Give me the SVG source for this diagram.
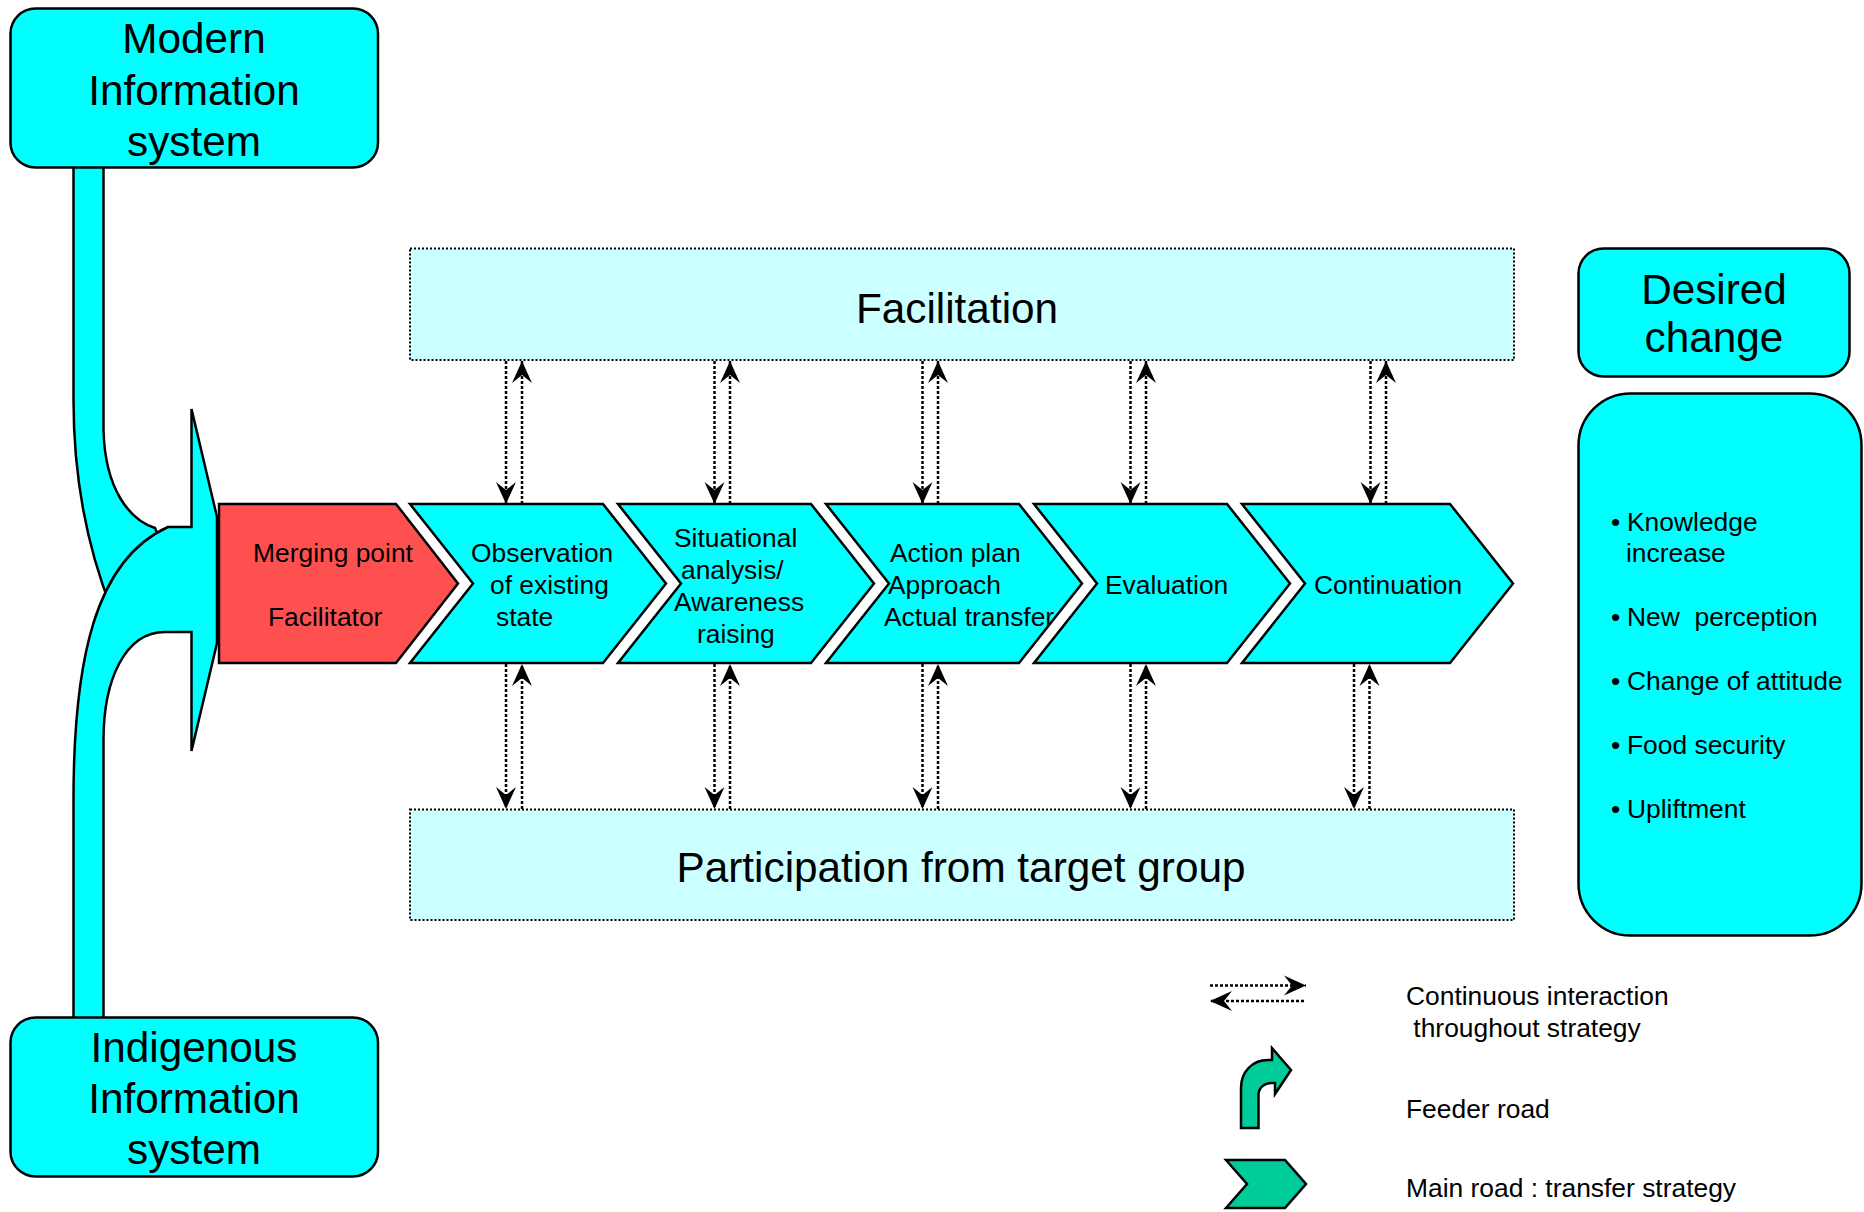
<svg xmlns="http://www.w3.org/2000/svg" width="1864" height="1212" viewBox="0 0 1864 1212">
<defs>
<style>
text{font-family:"Liberation Sans",Arial,sans-serif;fill:#000}
.big{font-size:42.3px;text-anchor:middle}
.med{font-size:26.4px}
.shape{stroke:#000;stroke-width:2.5;stroke-linejoin:miter}
.cyan{fill:#00FFFF}
.red{fill:#FF5050}
.green{fill:#00CC99}
.band{fill:#CCFFFF;stroke:#000;stroke-width:2;stroke-dasharray:2 2}
.dot{fill:none;stroke:#000;stroke-width:2.5;stroke-dasharray:3 2;marker-end:url(#ah)}
</style>
<marker id="ah" markerUnits="userSpaceOnUse" viewBox="-24 -12 26 24" refX="0" refY="0" markerWidth="26" markerHeight="24" orient="auto">
<path d="M0,0 L-22,-10 L-14,0 L-22,10 Z" fill="#000"/>
</marker>
</defs>
<rect width="1864" height="1212" fill="#fff"/>

<g id="merge">
<path class="shape cyan" d="M73.5,160 H103.5 V430 C105,490 130,520 155,528 L185,600 L112,610 C88,550 73.5,480 73.5,400 Z"/>
<path class="shape cyan" d="M73.5,1025 V800 C73.5,660 95,560 168,527 H191.5 V409 L217,517 V643 L191.5,751 V632 H165 C125,632 103.5,680 103.5,740 V1025 Z"/>
</g>

<g id="modern">
<rect class="shape cyan" x="10.5" y="8.5" width="367.5" height="159" rx="25"/>
<text class="big" x="194" y="53">Modern</text>
<text class="big" x="194" y="105">Information</text>
<text class="big" x="194" y="156">system</text>
</g>

<g id="indigenous">
<rect class="shape cyan" x="10.5" y="1017.5" width="367.5" height="159" rx="25"/>
<text class="big" x="194" y="1062">Indigenous</text>
<text class="big" x="194" y="1113">Information</text>
<text class="big" x="194" y="1164">system</text>
</g>

<g id="facilitation">
<rect class="band" x="410" y="248.5" width="1104" height="111.5"/>
<text class="big" x="957" y="323">Facilitation</text>
</g>

<g id="participation">
<rect class="band" x="410" y="809.5" width="1104" height="110.5"/>
<text class="big" x="961" y="882">Participation from target group</text>
</g>

<g id="merging-point">
<path class="shape red" d="M219,504 H396 L458,583.5 L396,663 H219 Z"/>
<text class="med" x="253" y="562">Merging point</text>
<text class="med" x="268" y="626">Facilitator</text>
</g>

<g id="observation">
<path class="shape cyan" d="M410,504 H603 L666,583.5 L603,663 H410 L473,583.5 Z"/>
<text class="med" x="471" y="562">Observation</text>
<text class="med" x="490" y="594">of existing</text>
<text class="med" x="496" y="626">state</text>
</g>

<g id="situational">
<path class="shape cyan" d="M618,504 H811 L874,583.5 L811,663 H618 L681,583.5 Z"/>
<text class="med" x="674" y="547">Situational</text>
<text class="med" x="681" y="579">analysis/</text>
<text class="med" x="674" y="611">Awareness</text>
<text class="med" x="697" y="643">raising</text>
</g>

<g id="action">
<path class="shape cyan" d="M826,504 H1019 L1082,583.5 L1019,663 H826 L889,583.5 Z"/>
<text class="med" x="890" y="562">Action plan</text>
<text class="med" x="888" y="594">Approach</text>
<text class="med" x="884" y="626">Actual transfer</text>
</g>

<g id="evaluation">
<path class="shape cyan" d="M1034,504 H1227 L1290,583.5 L1227,663 H1034 L1097,583.5 Z"/>
<text class="med" x="1105" y="594">Evaluation</text>
</g>

<g id="continuation">
<path class="shape cyan" d="M1242,504 H1450 L1513,583.5 L1450,663 H1242 L1305,583.5 Z"/>
<text class="med" x="1314" y="594">Continuation</text>
</g>

<g id="connectors">
<line class="dot" x1="506" y1="361" x2="506" y2="504"/>
<line class="dot" x1="522" y1="504" x2="522" y2="361"/>
<line class="dot" x1="506" y1="664" x2="506" y2="809"/>
<line class="dot" x1="522" y1="809" x2="522" y2="664"/>

<line class="dot" x1="714.5" y1="361" x2="714.5" y2="504"/>
<line class="dot" x1="730" y1="504" x2="730" y2="361"/>
<line class="dot" x1="714.5" y1="664" x2="714.5" y2="809"/>
<line class="dot" x1="730" y1="809" x2="730" y2="664"/>

<line class="dot" x1="922.5" y1="361" x2="922.5" y2="504"/>
<line class="dot" x1="938" y1="504" x2="938" y2="361"/>
<line class="dot" x1="922.5" y1="664" x2="922.5" y2="809"/>
<line class="dot" x1="938" y1="809" x2="938" y2="664"/>

<line class="dot" x1="1130.5" y1="361" x2="1130.5" y2="504"/>
<line class="dot" x1="1146" y1="504" x2="1146" y2="361"/>
<line class="dot" x1="1130.5" y1="664" x2="1130.5" y2="809"/>
<line class="dot" x1="1146" y1="809" x2="1146" y2="664"/>

<line class="dot" x1="1370.5" y1="361" x2="1370.5" y2="504"/>
<line class="dot" x1="1386" y1="504" x2="1386" y2="361"/>
<line class="dot" x1="1354" y1="664" x2="1354" y2="809"/>
<line class="dot" x1="1369.5" y1="809" x2="1369.5" y2="664"/>
</g>

<g id="desired-change">
<rect class="shape cyan" x="1578.5" y="248.5" width="271" height="128" rx="25"/>
<text class="big" x="1714" y="304">Desired</text>
<text class="big" x="1714" y="352">change</text>
</g>

<g id="desired-list">
<rect class="shape cyan" x="1578.5" y="393.5" width="283" height="542" rx="52"/>
<text class="med" x="1611" y="531">•</text><text class="med" x="1627" y="531">Knowledge</text>
<text class="med" x="1626" y="562">increase</text>
<text class="med" x="1611" y="626">•</text><text class="med" x="1627" y="626" xml:space="preserve">New  perception</text>
<text class="med" x="1611" y="690">•</text><text class="med" x="1627" y="690">Change of attitude</text>
<text class="med" x="1611" y="754">•</text><text class="med" x="1627" y="754">Food security</text>
<text class="med" x="1611" y="818">•</text><text class="med" x="1627" y="818">Upliftment</text>
</g>

<g id="legend">
<line class="dot" x1="1210" y1="985.5" x2="1306" y2="985.5"/>
<line class="dot" x1="1304" y1="1001" x2="1210" y2="1001"/>
<text class="med" x="1406" y="1005">Continuous interaction</text>
<text class="med" x="1406" y="1037" xml:space="preserve"> throughout strategy</text>
<path class="shape green" d="M1241,1128 H1258.5 V1095 C1258.5,1088 1264,1083 1272,1083 H1275 V1094 L1291,1070 L1272,1048 V1060 H1268 C1252,1060 1241,1072 1241,1088 Z"/>
<text class="med" x="1406" y="1118">Feeder road</text>
<path class="shape green" d="M1226,1160 H1285 L1306,1184 L1285,1208 H1226 L1247,1184 Z"/>
<text class="med" x="1406" y="1197">Main road : transfer strategy</text>
</g>
</svg>
